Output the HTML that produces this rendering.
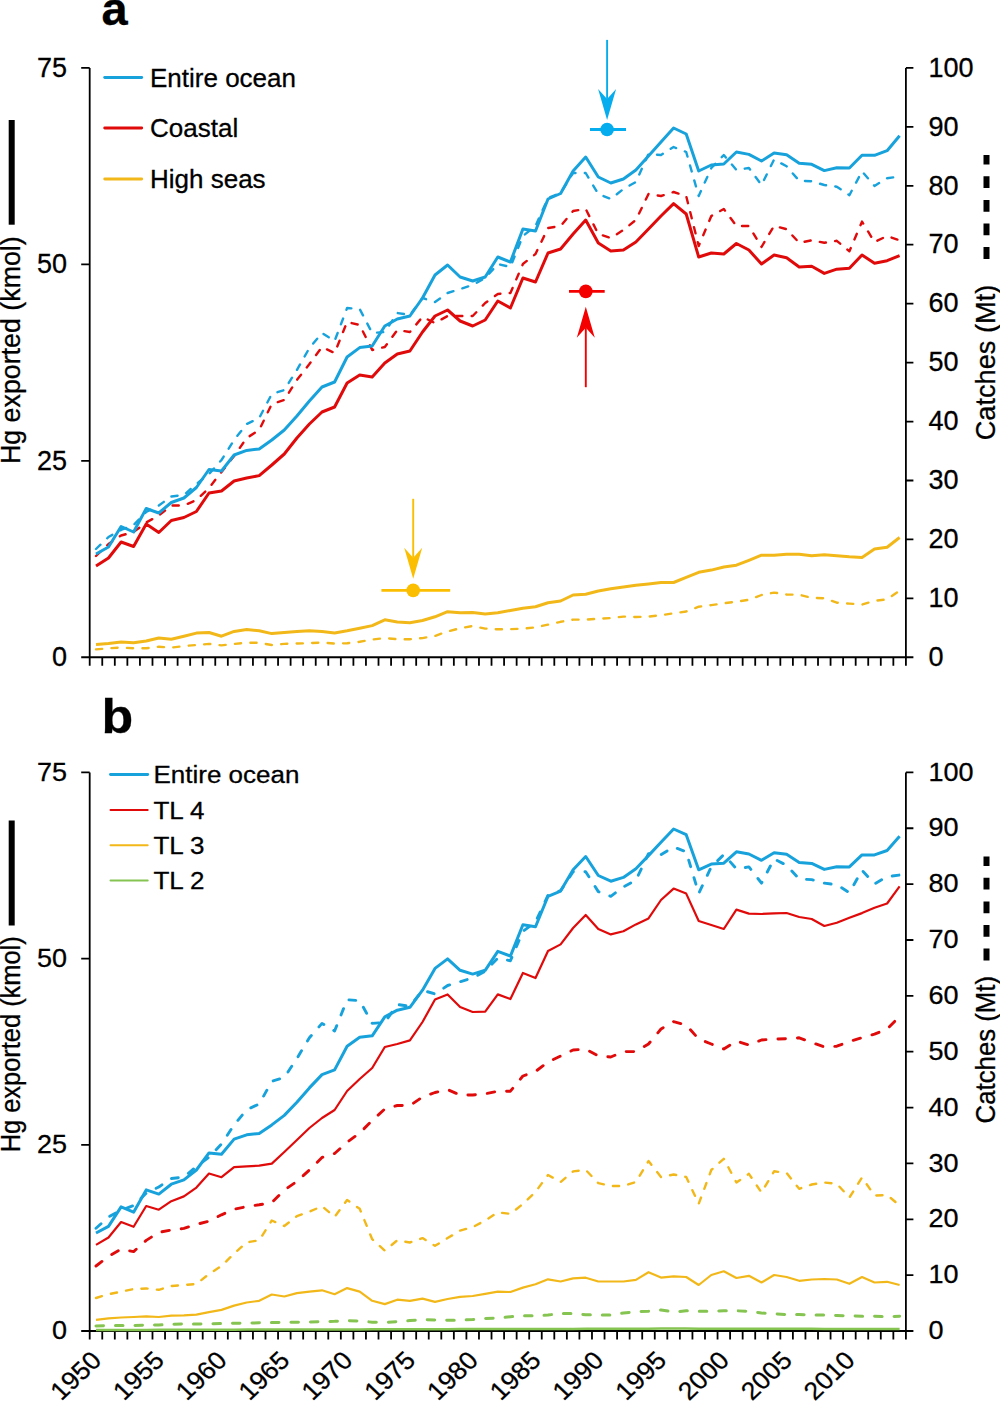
<!DOCTYPE html>
<html><head><meta charset="utf-8"><style>
html,body{margin:0;padding:0;background:#fff;}
svg{display:block;}
text{font-family:"Liberation Sans",sans-serif;fill:#000;stroke:#000;stroke-width:0.3px;}
</style></head><body>
<svg width="1000" height="1402" viewBox="0 0 1000 1402">
<text x="101.5" y="25.3" font-size="47" font-weight="bold">a</text>
<line x1="89.7" y1="67.9" x2="89.7" y2="657.3" stroke="#000" stroke-width="1.8"/>
<line x1="905.9" y1="67.9" x2="905.9" y2="657.3" stroke="#000" stroke-width="1.8"/>
<line x1="81.2" y1="657.3" x2="913.4" y2="657.3" stroke="#000" stroke-width="2"/>
<path d="M89.70 657.3v8.5M102.26 657.3v8.5M114.81 657.3v8.5M127.37 657.3v8.5M139.93 657.3v8.5M152.49 657.3v8.5M165.04 657.3v8.5M177.60 657.3v8.5M190.16 657.3v8.5M202.71 657.3v8.5M215.27 657.3v8.5M227.83 657.3v8.5M240.38 657.3v8.5M252.94 657.3v8.5M265.50 657.3v8.5M278.06 657.3v8.5M290.61 657.3v8.5M303.17 657.3v8.5M315.73 657.3v8.5M328.28 657.3v8.5M340.84 657.3v8.5M353.40 657.3v8.5M365.95 657.3v8.5M378.51 657.3v8.5M391.07 657.3v8.5M403.62 657.3v8.5M416.18 657.3v8.5M428.74 657.3v8.5M441.30 657.3v8.5M453.85 657.3v8.5M466.41 657.3v8.5M478.97 657.3v8.5M491.52 657.3v8.5M504.08 657.3v8.5M516.64 657.3v8.5M529.20 657.3v8.5M541.75 657.3v8.5M554.31 657.3v8.5M566.87 657.3v8.5M579.42 657.3v8.5M591.98 657.3v8.5M604.54 657.3v8.5M617.09 657.3v8.5M629.65 657.3v8.5M642.21 657.3v8.5M654.77 657.3v8.5M667.32 657.3v8.5M679.88 657.3v8.5M692.44 657.3v8.5M704.99 657.3v8.5M717.55 657.3v8.5M730.11 657.3v8.5M742.66 657.3v8.5M755.22 657.3v8.5M767.78 657.3v8.5M780.34 657.3v8.5M792.89 657.3v8.5M805.45 657.3v8.5M818.01 657.3v8.5M830.56 657.3v8.5M843.12 657.3v8.5M855.68 657.3v8.5M868.23 657.3v8.5M880.79 657.3v8.5M893.35 657.3v8.5M905.91 657.3v8.5" stroke="#000" stroke-width="1.8"/>
<path d="M81.2 67.90H89.7M81.2 264.37H89.7M81.2 460.83H89.7" stroke="#000" stroke-width="1.8"/>
<path d="M905.9 67.90h7.5M905.9 126.84h7.5M905.9 185.78h7.5M905.9 244.72h7.5M905.9 303.66h7.5M905.9 362.60h7.5M905.9 421.54h7.5M905.9 480.48h7.5M905.9 539.42h7.5M905.9 598.36h7.5" stroke="#000" stroke-width="1.8"/>
<text x="67" y="76.6" text-anchor="end" font-size="27" transform="translate(0 76.6) scale(1 1.0) translate(0 -76.6)">75</text>
<text x="67" y="273.1" text-anchor="end" font-size="27" transform="translate(0 273.1) scale(1 1.0) translate(0 -273.1)">50</text>
<text x="67" y="469.5" text-anchor="end" font-size="27" transform="translate(0 469.5) scale(1 1.0) translate(0 -469.5)">25</text>
<text x="67" y="666.0" text-anchor="end" font-size="27" transform="translate(0 666.0) scale(1 1.0) translate(0 -666.0)">0</text>
<text x="928.4" y="76.6" font-size="27" transform="translate(0 76.6) scale(1 1.0) translate(0 -76.6)">100</text>
<text x="928.4" y="135.5" font-size="27" transform="translate(0 135.5) scale(1 1.0) translate(0 -135.5)">90</text>
<text x="928.4" y="194.5" font-size="27" transform="translate(0 194.5) scale(1 1.0) translate(0 -194.5)">80</text>
<text x="928.4" y="253.4" font-size="27" transform="translate(0 253.4) scale(1 1.0) translate(0 -253.4)">70</text>
<text x="928.4" y="312.4" font-size="27" transform="translate(0 312.4) scale(1 1.0) translate(0 -312.4)">60</text>
<text x="928.4" y="371.3" font-size="27" transform="translate(0 371.3) scale(1 1.0) translate(0 -371.3)">50</text>
<text x="928.4" y="430.2" font-size="27" transform="translate(0 430.2) scale(1 1.0) translate(0 -430.2)">40</text>
<text x="928.4" y="489.2" font-size="27" transform="translate(0 489.2) scale(1 1.0) translate(0 -489.2)">30</text>
<text x="928.4" y="548.1" font-size="27" transform="translate(0 548.1) scale(1 1.0) translate(0 -548.1)">20</text>
<text x="928.4" y="607.1" font-size="27" transform="translate(0 607.1) scale(1 1.0) translate(0 -607.1)">10</text>
<text x="928.4" y="666.0" font-size="27" transform="translate(0 666.0) scale(1 1.0) translate(0 -666.0)">0</text>
<text x="0" y="0" font-size="26.8" text-anchor="middle" transform="translate(19.6 350.2) rotate(-90)">Hg exported (kmol)</text>
<text x="0" y="0" font-size="27.2" text-anchor="middle" transform="translate(995 362.5) rotate(-90)">Catches (Mt)</text>
<rect x="8.7" y="120" width="6" height="104.7" fill="#000"/>
<line x1="986.5" y1="155" x2="986.5" y2="260" stroke="#000" stroke-width="6" stroke-dasharray="11.8 11.8" stroke-dashoffset="2.3"/>
<line x1="104.7" y1="77.5" x2="141.7" y2="77.5" stroke="#17A2DC" stroke-width="2.9" stroke-linecap="round"/>
<text x="150" y="86.8" font-size="26">Entire ocean</text>
<line x1="104.7" y1="128" x2="141.7" y2="128" stroke="#E00A0A" stroke-width="2.9" stroke-linecap="round"/>
<text x="150" y="137.3" font-size="26">Coastal</text>
<line x1="104.7" y1="179" x2="141.7" y2="179" stroke="#F2B81A" stroke-width="2.9" stroke-linecap="round"/>
<text x="150" y="188.3" font-size="26">High seas</text>
<polyline points="96.0,649.4 108.5,648.3 121.1,647.6 133.6,648.3 146.2,648.3 158.8,646.8 171.3,647.6 183.9,646.1 196.4,645.0 209.0,643.9 221.5,645.4 234.1,643.9 246.7,642.8 259.2,642.8 271.8,645.0 284.3,643.9 296.9,643.5 309.4,643.2 322.0,642.5 334.6,643.6 347.1,643.2 359.7,641.8 372.2,639.6 384.8,638.1 397.3,639.2 409.9,639.2 422.5,638.1 435.0,635.9 447.6,631.5 460.1,628.2 472.7,626.0 485.2,628.6 497.8,629.3 510.4,629.2 522.9,628.7 535.5,627.3 548.0,624.7 560.6,621.8 573.1,619.6 585.7,619.6 598.3,618.8 610.8,618.1 623.4,616.6 635.9,617.0 648.5,616.6 661.0,615.2 673.6,613.3 686.2,611.5 698.7,606.7 711.3,605.1 723.8,603.3 736.4,601.7 748.9,599.8 761.5,595.0 774.1,592.6 786.6,594.5 799.2,594.7 811.7,597.9 824.3,598.3 836.8,602.7 849.4,603.6 862.0,604.6 874.5,600.8 887.1,599.4 899.6,590.7" fill="none" stroke="#F2B81A" stroke-width="2.4" stroke-linejoin="round" stroke-dasharray="6.2 9.3" stroke-linecap="round"/>
<polyline points="96.0,556.0 108.5,544.0 121.1,535.5 133.6,532.0 146.2,522.5 158.8,515.5 171.3,505.5 183.9,505.5 196.4,500.0 209.0,488.0 221.5,472.0 234.1,456.0 246.7,438.0 259.2,430.0 271.8,404.0 284.3,400.0 296.9,380.0 309.4,364.0 322.0,347.0 334.6,353.0 347.1,322.0 359.7,325.0 372.2,350.0 384.8,347.0 397.3,330.0 409.9,332.0 422.5,317.0 435.0,323.0 447.6,316.0 460.1,316.0 472.7,316.0 485.2,303.0 497.8,294.0 510.4,293.0 522.9,264.0 535.5,254.0 548.0,228.0 560.6,226.0 573.1,211.0 585.7,209.0 598.3,234.0 610.8,238.0 623.4,230.0 635.9,220.0 648.5,194.0 661.0,196.0 673.6,192.0 686.2,196.0 698.7,246.0 711.3,216.0 723.8,209.0 736.4,226.0 748.9,226.0 761.5,247.0 774.1,225.8 786.6,229.2 799.2,242.8 811.7,240.3 824.3,242.8 836.8,240.8 849.4,251.3 862.0,221.6 874.5,242.0 887.1,236.0 899.6,240.3" fill="none" stroke="#E00A0A" stroke-width="2.4" stroke-linejoin="round" stroke-dasharray="6.2 9.3" stroke-linecap="round"/>
<polyline points="96.0,549.0 108.5,537.0 121.1,530.0 133.6,525.0 146.2,512.0 158.8,505.5 171.3,496.5 183.9,495.0 196.4,484.0 209.0,474.0 221.5,460.0 234.1,440.0 246.7,424.0 259.2,418.0 271.8,394.0 284.3,390.0 296.9,370.0 309.4,348.0 322.0,333.0 334.6,341.0 347.1,308.0 359.7,309.0 372.2,333.0 384.8,332.0 397.3,313.0 409.9,315.0 422.5,298.0 435.0,302.0 447.6,293.0 460.1,289.0 472.7,285.0 485.2,278.0 497.8,264.0 510.4,267.0 522.9,236.0 535.5,226.0 548.0,198.0 560.6,193.0 573.1,173.0 585.7,173.0 598.3,194.0 610.8,199.0 623.4,189.0 635.9,182.0 648.5,154.0 661.0,155.0 673.6,147.0 686.2,152.0 698.7,196.0 711.3,168.0 723.8,155.0 736.4,170.0 748.9,168.0 761.5,185.0 774.1,159.5 786.6,166.3 799.2,180.8 811.7,181.3 824.3,185.0 836.8,186.7 849.4,195.2 862.0,171.4 874.5,185.9 887.1,178.2 899.6,176.5" fill="none" stroke="#17A2DC" stroke-width="2.4" stroke-linejoin="round" stroke-dasharray="6.2 9.3" stroke-linecap="round"/>
<polyline points="96.0,644.6 108.5,643.5 121.1,642.1 133.6,642.8 146.2,641.0 158.8,638.0 171.3,639.3 183.9,636.2 196.4,633.1 209.0,632.5 221.5,636.2 234.1,631.4 246.7,629.6 259.2,630.7 271.8,633.6 284.3,632.5 296.9,631.4 309.4,630.8 322.0,631.5 334.6,633.0 347.1,630.8 359.7,628.2 372.2,625.6 384.8,619.8 397.3,622.0 409.9,622.7 422.5,620.5 435.0,616.8 447.6,611.7 460.1,612.8 472.7,612.4 485.2,613.9 497.8,612.8 510.4,610.5 522.9,608.2 535.5,606.7 548.0,602.7 560.6,601.0 573.1,595.0 585.7,594.3 598.3,591.0 610.8,588.8 623.4,586.9 635.9,585.3 648.5,584.0 661.0,582.5 673.6,582.5 686.2,577.4 698.7,572.3 711.3,570.1 723.8,567.0 736.4,565.2 748.9,560.3 761.5,555.2 774.1,555.2 786.6,554.2 799.2,554.2 811.7,555.7 824.3,554.8 836.8,555.7 849.4,556.7 862.0,557.4 874.5,549.1 887.1,547.2 899.6,537.5" fill="none" stroke="#F2B81A" stroke-width="3" stroke-linejoin="round"/>
<polyline points="96.0,566.0 108.5,558.0 121.1,542.0 133.6,546.5 146.2,524.0 158.8,532.5 171.3,520.5 183.9,517.5 196.4,511.5 209.0,493.0 221.5,491.0 234.1,481.0 246.7,478.0 259.2,475.6 271.8,465.0 284.3,454.0 296.9,438.0 309.4,424.0 322.0,412.0 334.6,407.0 347.1,383.0 359.7,375.0 372.2,377.0 384.8,363.0 397.3,354.0 409.9,351.0 422.5,332.0 435.0,316.0 447.6,310.0 460.1,321.0 472.7,326.0 485.2,320.0 497.8,301.0 510.4,308.0 522.9,278.0 535.5,282.0 548.0,253.0 560.6,249.0 573.1,234.0 585.7,220.0 598.3,243.0 610.8,251.0 623.4,250.0 635.9,242.0 648.5,229.0 661.0,216.0 673.6,203.6 686.2,214.0 698.7,257.0 711.3,253.0 723.8,254.0 736.4,243.5 748.9,250.0 761.5,264.0 774.1,255.0 786.6,257.8 799.2,267.0 811.7,266.3 824.3,273.4 836.8,269.2 849.4,268.3 862.0,255.0 874.5,263.2 887.1,260.7 899.6,255.6" fill="none" stroke="#E00A0A" stroke-width="3" stroke-linejoin="round"/>
<polyline points="96.0,554.0 108.5,547.0 121.1,526.5 133.6,532.0 146.2,508.5 158.8,513.0 171.3,502.5 183.9,498.0 196.4,487.5 209.0,469.5 221.5,471.0 234.1,455.0 246.7,450.4 259.2,449.0 271.8,440.0 284.3,430.0 296.9,416.0 309.4,401.0 322.0,387.0 334.6,382.0 347.1,357.0 359.7,347.6 372.2,346.0 384.8,326.0 397.3,319.0 409.9,316.0 422.5,298.0 435.0,275.0 447.6,265.0 460.1,277.0 472.7,281.0 485.2,277.0 497.8,257.0 510.4,262.0 522.9,229.0 535.5,231.0 548.0,199.0 560.6,193.5 573.1,171.0 585.7,157.0 598.3,177.0 610.8,183.0 623.4,179.0 635.9,170.0 648.5,156.0 661.0,142.0 673.6,128.0 686.2,134.0 698.7,171.0 711.3,165.0 723.8,164.0 736.4,152.0 748.9,154.4 761.5,161.0 774.1,153.0 786.6,154.7 799.2,163.2 811.7,164.3 824.3,170.6 836.8,167.7 849.4,168.0 862.0,155.3 874.5,155.3 887.1,150.7 899.6,135.7" fill="none" stroke="#17A2DC" stroke-width="3" stroke-linejoin="round"/>
<line x1="590" y1="129.5" x2="626" y2="129.5" stroke="#05ADEE" stroke-width="2.9"/>
<circle cx="607.1" cy="129.5" r="6.8" fill="#05ADEE"/>
<line x1="607.1" y1="39.9" x2="607.1" y2="98.9" stroke="#05ADEE" stroke-width="1.9"/>
<path d="M607.1 119.9L598.1 88.9L607.1 98.9L616.1 88.9Z" fill="#05ADEE"/>
<line x1="569" y1="291.4" x2="604.7" y2="291.4" stroke="#F50000" stroke-width="2.9"/>
<circle cx="585.8" cy="291.4" r="6.8" fill="#F50000"/>
<line x1="585.8" y1="387.2" x2="585.8" y2="327.8" stroke="#F50000" stroke-width="1.9"/>
<path d="M585.8 306.8L576.8 337.8L585.8 327.8L594.8 337.8Z" fill="#F50000"/>
<line x1="381.4" y1="590.4" x2="450.2" y2="590.4" stroke="#FBBE00" stroke-width="2.9"/>
<circle cx="413.2" cy="590.4" r="6.8" fill="#FBBE00"/>
<line x1="413.2" y1="498.8" x2="413.2" y2="557.8" stroke="#FBBE00" stroke-width="1.9"/>
<path d="M413.2 578.8L404.2 547.8L413.2 557.8L422.2 547.8Z" fill="#FBBE00"/>
<text x="0" y="0" font-size="48.5" font-weight="bold" transform="translate(101.6 732.6) scale(1.07 1)">b</text>
<line x1="89.7" y1="772.4" x2="89.7" y2="1331.0" stroke="#000" stroke-width="1.8"/>
<line x1="905.9" y1="772.4" x2="905.9" y2="1331.0" stroke="#000" stroke-width="1.8"/>
<line x1="81.2" y1="1331.0" x2="913.4" y2="1331.0" stroke="#000" stroke-width="2"/>
<path d="M89.70 1331.0v8.5M102.26 1331.0v8.5M114.81 1331.0v8.5M127.37 1331.0v8.5M139.93 1331.0v8.5M152.49 1331.0v8.5M165.04 1331.0v8.5M177.60 1331.0v8.5M190.16 1331.0v8.5M202.71 1331.0v8.5M215.27 1331.0v8.5M227.83 1331.0v8.5M240.38 1331.0v8.5M252.94 1331.0v8.5M265.50 1331.0v8.5M278.06 1331.0v8.5M290.61 1331.0v8.5M303.17 1331.0v8.5M315.73 1331.0v8.5M328.28 1331.0v8.5M340.84 1331.0v8.5M353.40 1331.0v8.5M365.95 1331.0v8.5M378.51 1331.0v8.5M391.07 1331.0v8.5M403.62 1331.0v8.5M416.18 1331.0v8.5M428.74 1331.0v8.5M441.30 1331.0v8.5M453.85 1331.0v8.5M466.41 1331.0v8.5M478.97 1331.0v8.5M491.52 1331.0v8.5M504.08 1331.0v8.5M516.64 1331.0v8.5M529.20 1331.0v8.5M541.75 1331.0v8.5M554.31 1331.0v8.5M566.87 1331.0v8.5M579.42 1331.0v8.5M591.98 1331.0v8.5M604.54 1331.0v8.5M617.09 1331.0v8.5M629.65 1331.0v8.5M642.21 1331.0v8.5M654.77 1331.0v8.5M667.32 1331.0v8.5M679.88 1331.0v8.5M692.44 1331.0v8.5M704.99 1331.0v8.5M717.55 1331.0v8.5M730.11 1331.0v8.5M742.66 1331.0v8.5M755.22 1331.0v8.5M767.78 1331.0v8.5M780.34 1331.0v8.5M792.89 1331.0v8.5M805.45 1331.0v8.5M818.01 1331.0v8.5M830.56 1331.0v8.5M843.12 1331.0v8.5M855.68 1331.0v8.5M868.23 1331.0v8.5M880.79 1331.0v8.5M893.35 1331.0v8.5M905.91 1331.0v8.5" stroke="#000" stroke-width="1.8"/>
<path d="M81.2 772.40H89.7M81.2 958.60H89.7M81.2 1144.80H89.7" stroke="#000" stroke-width="1.8"/>
<path d="M905.9 772.40h7.5M905.9 828.26h7.5M905.9 884.12h7.5M905.9 939.98h7.5M905.9 995.84h7.5M905.9 1051.70h7.5M905.9 1107.56h7.5M905.9 1163.42h7.5M905.9 1219.28h7.5M905.9 1275.14h7.5" stroke="#000" stroke-width="1.8"/>
<text x="67" y="780.7" text-anchor="end" font-size="27" transform="translate(0 780.7) scale(1 0.9484) translate(0 -780.7)">75</text>
<text x="67" y="966.9" text-anchor="end" font-size="27" transform="translate(0 966.9) scale(1 0.9484) translate(0 -966.9)">50</text>
<text x="67" y="1153.1" text-anchor="end" font-size="27" transform="translate(0 1153.1) scale(1 0.9484) translate(0 -1153.1)">25</text>
<text x="67" y="1339.3" text-anchor="end" font-size="27" transform="translate(0 1339.3) scale(1 0.9484) translate(0 -1339.3)">0</text>
<text x="928.4" y="780.7" font-size="27" transform="translate(0 780.7) scale(1 0.9484) translate(0 -780.7)">100</text>
<text x="928.4" y="836.5" font-size="27" transform="translate(0 836.5) scale(1 0.9484) translate(0 -836.5)">90</text>
<text x="928.4" y="892.4" font-size="27" transform="translate(0 892.4) scale(1 0.9484) translate(0 -892.4)">80</text>
<text x="928.4" y="948.2" font-size="27" transform="translate(0 948.2) scale(1 0.9484) translate(0 -948.2)">70</text>
<text x="928.4" y="1004.1" font-size="27" transform="translate(0 1004.1) scale(1 0.9484) translate(0 -1004.1)">60</text>
<text x="928.4" y="1060.0" font-size="27" transform="translate(0 1060.0) scale(1 0.9484) translate(0 -1060.0)">50</text>
<text x="928.4" y="1115.8" font-size="27" transform="translate(0 1115.8) scale(1 0.9484) translate(0 -1115.8)">40</text>
<text x="928.4" y="1171.7" font-size="27" transform="translate(0 1171.7) scale(1 0.9484) translate(0 -1171.7)">30</text>
<text x="928.4" y="1227.5" font-size="27" transform="translate(0 1227.5) scale(1 0.9484) translate(0 -1227.5)">20</text>
<text x="928.4" y="1283.4" font-size="27" transform="translate(0 1283.4) scale(1 0.9484) translate(0 -1283.4)">10</text>
<text x="928.4" y="1339.3" font-size="27" transform="translate(0 1339.3) scale(1 0.9484) translate(0 -1339.3)">0</text>
<text x="0" y="0" font-size="26.8" text-anchor="middle" transform="translate(19.6 1044.3) scale(1 0.9484) rotate(-90)">Hg exported (kmol)</text>
<text x="0" y="0" font-size="27.2" text-anchor="middle" transform="translate(995 1049.7) scale(1 0.9484) rotate(-90)">Catches (Mt)</text>
<rect x="8.7" y="820.5" width="6" height="105" fill="#000"/>
<line x1="986.5" y1="856.5" x2="986.5" y2="962" stroke="#000" stroke-width="6" stroke-dasharray="11.8 11.8" stroke-dashoffset="2.3"/>
<line x1="110.5" y1="774.5" x2="147.7" y2="774.5" stroke="#17A2DC" stroke-width="2.9" stroke-linecap="round"/>
<text x="153.5" y="783.3" font-size="26" transform="translate(0 783.3) scale(1 0.9484) translate(0 -783.3)">Entire ocean</text>
<line x1="110.5" y1="810" x2="147.7" y2="810" stroke="#E00A0A" stroke-width="2" stroke-linecap="round"/>
<text x="153.5" y="818.8" font-size="26" transform="translate(0 818.8) scale(1 0.9484) translate(0 -818.8)">TL 4</text>
<line x1="110.5" y1="845.3" x2="147.7" y2="845.3" stroke="#F2B81A" stroke-width="2" stroke-linecap="round"/>
<text x="153.5" y="854.0999999999999" font-size="26" transform="translate(0 854.0999999999999) scale(1 0.9484) translate(0 -854.0999999999999)">TL 3</text>
<line x1="110.5" y1="880.4" x2="147.7" y2="880.4" stroke="#86C452" stroke-width="2" stroke-linecap="round"/>
<text x="153.5" y="889.1999999999999" font-size="26" transform="translate(0 889.1999999999999) scale(1 0.9484) translate(0 -889.1999999999999)">TL 2</text>
<text x="0" y="0" font-size="26.5" text-anchor="end" transform="translate(103.0 1361.9) scale(1 0.9484) rotate(-45)">1950</text>
<text x="0" y="0" font-size="26.5" text-anchor="end" transform="translate(165.8 1361.9) scale(1 0.9484) rotate(-45)">1955</text>
<text x="0" y="0" font-size="26.5" text-anchor="end" transform="translate(228.5 1361.9) scale(1 0.9484) rotate(-45)">1960</text>
<text x="0" y="0" font-size="26.5" text-anchor="end" transform="translate(291.3 1361.9) scale(1 0.9484) rotate(-45)">1965</text>
<text x="0" y="0" font-size="26.5" text-anchor="end" transform="translate(354.1 1361.9) scale(1 0.9484) rotate(-45)">1970</text>
<text x="0" y="0" font-size="26.5" text-anchor="end" transform="translate(416.9 1361.9) scale(1 0.9484) rotate(-45)">1975</text>
<text x="0" y="0" font-size="26.5" text-anchor="end" transform="translate(479.7 1361.9) scale(1 0.9484) rotate(-45)">1980</text>
<text x="0" y="0" font-size="26.5" text-anchor="end" transform="translate(542.5 1361.9) scale(1 0.9484) rotate(-45)">1985</text>
<text x="0" y="0" font-size="26.5" text-anchor="end" transform="translate(605.3 1361.9) scale(1 0.9484) rotate(-45)">1990</text>
<text x="0" y="0" font-size="26.5" text-anchor="end" transform="translate(668.0 1361.9) scale(1 0.9484) rotate(-45)">1995</text>
<text x="0" y="0" font-size="26.5" text-anchor="end" transform="translate(730.8 1361.9) scale(1 0.9484) rotate(-45)">2000</text>
<text x="0" y="0" font-size="26.5" text-anchor="end" transform="translate(793.6 1361.9) scale(1 0.9484) rotate(-45)">2005</text>
<text x="0" y="0" font-size="26.5" text-anchor="end" transform="translate(856.4 1361.9) scale(1 0.9484) rotate(-45)">2010</text>
<polyline points="96.0,1325.9 108.5,1325.5 121.1,1325.5 133.6,1325.5 146.2,1325.1 158.8,1325.0 171.3,1324.2 183.9,1324.0 196.4,1324.0 209.0,1323.8 221.5,1323.6 234.1,1323.2 246.7,1323.1 259.2,1322.8 271.8,1322.6 284.3,1322.4 296.9,1322.2 309.4,1322.0 322.0,1321.7 334.6,1321.3 347.1,1320.6 359.7,1321.0 372.2,1322.2 384.8,1322.4 397.3,1321.7 409.9,1320.6 422.5,1319.5 435.0,1320.0 447.6,1320.2 460.1,1320.2 472.7,1319.5 485.2,1318.4 497.8,1318.0 510.4,1316.7 522.9,1315.8 535.5,1315.8 548.0,1315.1 560.6,1313.4 573.1,1313.4 585.7,1314.7 598.3,1315.1 610.8,1315.1 623.4,1312.9 635.9,1311.8 648.5,1311.2 661.0,1310.0 673.6,1312.0 686.2,1310.8 698.7,1311.3 711.3,1311.3 723.8,1310.8 736.4,1310.8 748.9,1311.3 761.5,1313.0 774.1,1313.8 786.6,1314.5 799.2,1314.5 811.7,1315.0 824.3,1315.0 836.8,1315.5 849.4,1315.8 862.0,1316.3 874.5,1316.3 887.1,1316.8 899.6,1316.3" fill="none" stroke="#86C452" stroke-width="3" stroke-linejoin="round" stroke-dasharray="7.5 12" stroke-linecap="round"/>
<polyline points="96.0,1298.0 108.5,1294.2 121.1,1291.7 133.6,1289.0 146.2,1288.5 158.8,1289.8 171.3,1286.0 183.9,1285.0 196.4,1284.0 209.0,1274.0 221.5,1266.0 234.1,1253.5 246.7,1242.4 259.2,1240.3 271.8,1220.5 284.3,1226.0 296.9,1216.1 309.4,1211.7 322.0,1206.2 334.6,1216.8 347.1,1200.0 359.7,1208.8 372.2,1239.2 384.8,1250.6 397.3,1240.3 409.9,1242.5 422.5,1238.1 435.0,1245.8 447.6,1238.1 460.1,1230.6 472.7,1227.1 485.2,1220.5 497.8,1212.4 510.4,1213.9 522.9,1204.0 535.5,1191.9 548.0,1175.0 560.6,1182.0 573.1,1171.4 585.7,1169.9 598.3,1183.1 610.8,1186.0 623.4,1186.0 635.9,1182.0 648.5,1161.1 661.0,1177.0 673.6,1174.5 686.2,1177.0 698.7,1203.8 711.3,1170.0 723.8,1158.8 736.4,1182.5 748.9,1173.8 761.5,1192.5 774.1,1171.3 786.6,1173.0 799.2,1188.8 811.7,1184.5 824.3,1182.5 836.8,1183.8 849.4,1197.5 862.0,1177.5 874.5,1195.5 887.1,1195.0 899.6,1205.5" fill="none" stroke="#F2B81A" stroke-width="2.4" stroke-linejoin="round" stroke-dasharray="6.2 9.3" stroke-linecap="round"/>
<polyline points="96.0,1266.0 108.5,1256.4 121.1,1249.2 133.6,1251.6 146.2,1240.4 158.8,1232.4 171.3,1230.0 183.9,1228.4 196.4,1224.4 209.0,1221.2 221.5,1214.8 234.1,1209.2 246.7,1206.6 259.2,1204.8 271.8,1202.6 284.3,1190.0 296.9,1181.5 309.4,1170.0 322.0,1157.5 334.6,1153.5 347.1,1142.2 359.7,1133.0 372.2,1120.5 384.8,1109.0 397.3,1105.5 409.9,1105.6 422.5,1097.0 435.0,1092.5 447.6,1089.6 460.1,1095.0 472.7,1095.0 485.2,1093.8 497.8,1091.2 510.4,1091.2 522.9,1076.0 535.5,1071.5 548.0,1062.0 560.6,1056.0 573.1,1050.0 585.7,1049.0 598.3,1056.0 610.8,1057.0 623.4,1051.6 635.9,1051.6 648.5,1044.0 661.0,1029.0 673.6,1021.6 686.2,1025.0 698.7,1039.0 711.3,1044.0 723.8,1049.0 736.4,1041.0 748.9,1045.0 761.5,1040.0 774.1,1039.0 786.6,1038.8 799.2,1037.8 811.7,1042.5 824.3,1047.0 836.8,1046.2 849.4,1041.5 862.0,1037.7 874.5,1034.1 887.1,1029.1 899.6,1016.3" fill="none" stroke="#E00A0A" stroke-width="2.9" stroke-linejoin="round" stroke-dasharray="7.5 12" stroke-linecap="round"/>
<polyline points="96.0,1228.3 108.5,1216.9 121.1,1210.3 133.6,1205.5 146.2,1193.2 158.8,1187.0 171.3,1178.5 183.9,1177.1 196.4,1166.6 209.0,1157.2 221.5,1143.9 234.1,1124.9 246.7,1109.7 259.2,1104.0 271.8,1081.3 284.3,1077.5 296.9,1058.5 309.4,1037.7 322.0,1023.4 334.6,1031.0 347.1,999.7 359.7,1000.7 372.2,1023.4 384.8,1022.5 397.3,1004.5 409.9,1006.4 422.5,990.2 435.0,994.0 447.6,985.5 460.1,981.7 472.7,977.9 485.2,971.3 497.8,958.0 510.4,960.8 522.9,931.4 535.5,922.0 548.0,895.4 560.6,890.7 573.1,871.7 585.7,871.7 598.3,891.6 610.8,896.3 623.4,886.9 635.9,880.2 648.5,853.7 661.0,854.6 673.6,847.0 686.2,851.8 698.7,893.5 711.3,866.9 723.8,854.6 736.4,868.8 748.9,866.9 761.5,883.1 774.1,858.9 786.6,865.3 799.2,879.1 811.7,879.6 824.3,883.1 836.8,884.7 849.4,892.7 862.0,870.2 874.5,883.9 887.1,876.6 899.6,875.0" fill="none" stroke="#17A2DC" stroke-width="2.9" stroke-linejoin="round" stroke-dasharray="6.8 11.5" stroke-linecap="round"/>
<polyline points="96.0,1330.0 108.5,1330.0 121.1,1329.9 133.6,1329.9 146.2,1329.9 158.8,1329.8 171.3,1329.8 183.9,1329.8 196.4,1329.8 209.0,1329.7 221.5,1329.7 234.1,1329.7 246.7,1329.6 259.2,1329.6 271.8,1329.6 284.3,1329.5 296.9,1329.5 309.4,1329.5 322.0,1329.5 334.6,1329.4 347.1,1329.4 359.7,1329.4 372.2,1329.3 384.8,1329.3 397.3,1329.3 409.9,1329.2 422.5,1329.2 435.0,1329.2 447.6,1329.2 460.1,1329.1 472.7,1329.1 485.2,1329.1 497.8,1329.0 510.4,1329.0 522.9,1329.0 535.5,1329.0 548.0,1328.9 560.6,1328.9 573.1,1328.9 585.7,1328.8 598.3,1328.8 610.8,1328.8 623.4,1328.7 635.9,1328.7 648.5,1328.7 661.0,1328.6 673.6,1328.6 686.2,1328.6 698.7,1328.7 711.3,1328.7 723.8,1328.7 736.4,1328.7 748.9,1328.7 761.5,1328.8 774.1,1328.8 786.6,1328.8 799.2,1328.8 811.7,1328.8 824.3,1328.9 836.8,1328.9 849.4,1328.9 862.0,1328.9 874.5,1328.9 887.1,1329.0 899.6,1329.0" fill="none" stroke="#86C452" stroke-width="2.5" stroke-linejoin="round"/>
<polyline points="96.0,1319.8 108.5,1318.3 121.1,1317.5 133.6,1317.0 146.2,1316.4 158.8,1317.0 171.3,1315.6 183.9,1315.4 196.4,1314.7 209.0,1312.2 221.5,1309.9 234.1,1305.6 246.7,1302.5 259.2,1300.8 271.8,1294.5 284.3,1296.5 296.9,1293.1 309.4,1291.6 322.0,1290.3 334.6,1294.2 347.1,1288.1 359.7,1291.6 372.2,1300.8 384.8,1304.1 397.3,1299.7 409.9,1300.8 422.5,1298.6 435.0,1301.9 447.6,1299.0 460.1,1296.9 472.7,1296.0 485.2,1293.8 497.8,1291.6 510.4,1292.0 522.9,1287.6 535.5,1284.3 548.0,1279.3 560.6,1281.5 573.1,1278.4 585.7,1277.7 598.3,1281.5 610.8,1281.5 623.4,1281.5 635.9,1279.9 648.5,1272.2 661.0,1277.6 673.6,1276.3 686.2,1277.0 698.7,1285.0 711.3,1275.0 723.8,1271.3 736.4,1278.0 748.9,1275.8 761.5,1282.5 774.1,1275.0 786.6,1277.0 799.2,1280.8 811.7,1279.5 824.3,1279.0 836.8,1279.5 849.4,1283.8 862.0,1277.0 874.5,1282.5 887.1,1281.8 899.6,1285.0" fill="none" stroke="#F2B81A" stroke-width="2.2" stroke-linejoin="round"/>
<polyline points="96.0,1244.9 108.5,1237.5 121.1,1222.0 133.6,1226.8 146.2,1206.0 158.8,1209.7 171.3,1201.2 183.9,1196.4 196.4,1187.6 209.0,1173.5 221.5,1177.2 234.1,1167.1 246.7,1166.4 259.2,1165.6 271.8,1163.6 284.3,1152.0 296.9,1140.0 309.4,1128.0 322.0,1118.0 334.6,1110.0 347.1,1091.0 359.7,1079.0 372.2,1068.0 384.8,1047.0 397.3,1044.0 409.9,1040.4 422.5,1022.0 435.0,999.5 447.6,994.4 460.1,1007.0 472.7,1012.0 485.2,1011.6 497.8,994.4 510.4,999.0 522.9,973.0 535.5,978.0 548.0,951.0 560.6,944.4 573.1,928.0 585.7,915.0 598.3,929.0 610.8,934.4 623.4,931.3 635.9,924.4 648.5,918.4 661.0,900.0 673.6,888.6 686.2,893.6 698.7,921.0 711.3,925.0 723.8,929.0 736.4,909.6 748.9,913.6 761.5,914.0 774.1,913.3 786.6,913.0 799.2,917.0 811.7,919.0 824.3,926.0 836.8,922.8 849.4,917.8 862.0,913.1 874.5,907.8 887.1,903.5 899.6,886.4" fill="none" stroke="#E00A0A" stroke-width="2.2" stroke-linejoin="round"/>
<polyline points="96.0,1233.0 108.5,1226.4 121.1,1206.9 133.6,1212.2 146.2,1189.9 158.8,1194.1 171.3,1184.2 183.9,1179.9 196.4,1170.0 209.0,1152.9 221.5,1154.3 234.1,1139.1 246.7,1134.8 259.2,1133.4 271.8,1124.9 284.3,1115.4 296.9,1102.2 309.4,1087.9 322.0,1074.6 334.6,1069.9 347.1,1046.2 359.7,1037.3 372.2,1035.8 384.8,1016.8 397.3,1010.2 409.9,1007.3 422.5,990.2 435.0,968.4 447.6,958.9 460.1,970.3 472.7,974.1 485.2,970.3 497.8,951.4 510.4,956.1 522.9,924.8 535.5,926.7 548.0,896.3 560.6,891.1 573.1,869.8 585.7,856.5 598.3,875.5 610.8,881.2 623.4,877.4 635.9,868.8 648.5,855.6 661.0,842.3 673.6,829.0 686.2,834.7 698.7,869.8 711.3,864.1 723.8,863.2 736.4,851.8 748.9,854.0 761.5,860.3 774.1,852.7 786.6,854.3 799.2,862.4 811.7,863.4 824.3,869.4 836.8,866.7 849.4,866.9 862.0,854.9 874.5,854.9 887.1,850.5 899.6,836.3" fill="none" stroke="#17A2DC" stroke-width="3" stroke-linejoin="round"/>
</svg></body></html>
